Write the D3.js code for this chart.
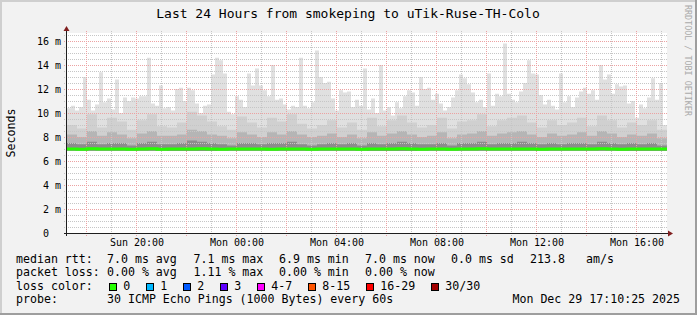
<!DOCTYPE html>
<html>
<head>
<meta charset="utf-8">
<style>
  body { margin: 0; background: #f2f2f2; }
  svg { display: block; }
  text { font-family: "DejaVu Sans Mono", monospace; fill: #000; }
</style>
</head>
<body>
<script src="https://cdn.jsdelivr.net/npm/d3@7"></script>
<script>
"use strict";

const title = "Last 24 Hours from smokeping to uTik-Ruse-TH-Colo";
const yLabel = "Seconds";
const watermark = "RRDTOOL / TOBI OETIKER";

// time window of the graph
const startTime = new Date(2025, 11, 28, 17, 13, 12);
const endTime = new Date(2025, 11, 29, 17, 13, 12);

// y ticks in ms
const yTickValues = [0, 2, 4, 6, 8, 10, 12, 14, 16];

// smoke: highest ping of each slot (ms)
const smokeMax = [
  10.4, 10.6, 10.2, 10.5, 13.0, 11.1, 10.2, 10.7, 13.4, 10.9,
  11.2, 10.3, 12.8, 10.0, 11.3, 11.0, 11.3, 11.2, 11.4, 11.4,
  14.6, 10.8, 10.6, 12.3, 10.4, 10.5, 10.2, 12.0, 12.1, 11.0,
  12.1, 11.9, 10.8, 10.0, 10.6, 10.7, 13.2, 14.6, 14.4, 13.3,
  10.1, 9.9, 11.4, 11.1, 10.5, 13.3, 12.3, 13.7, 12.3, 11.9,
  11.4, 14.0, 11.1, 11.2, 10.7, 10.3, 10.6, 10.5, 14.6, 10.6,
  10.4, 10.9, 15.2, 13.0, 12.5, 12.6, 11.2, 10.2, 11.9, 11.7,
  11.8, 10.5, 11.1, 10.6, 13.7, 10.3, 11.2, 10.0, 14.0, 10.2,
  10.5, 9.8, 10.9, 10.4, 11.4, 11.9, 11.7, 10.6, 13.0, 12.0,
  12.1, 11.1, 11.6, 10.8, 10.2, 10.5, 11.3, 11.9, 13.2, 12.9,
  12.4, 11.7, 10.9, 11.1, 10.5, 13.3, 10.6, 11.6, 11.4, 15.8,
  11.6, 11.1, 10.9, 11.8, 12.5, 14.4, 13.3, 13.2, 11.5, 10.7,
  11.1, 10.6, 10.3, 13.3, 10.9, 11.4, 10.5, 11.3, 11.8, 12.1,
  11.6, 11.9, 11.1, 14.0, 12.8, 13.2, 11.6, 12.4, 12.2, 12.3,
  10.8, 11.0, 9.6, 10.7, 10.4, 11.3, 12.9, 11.1, 12.5, 9.0
];

// smoke: upper body of the pings (ms)
const smokeUpper = [
  9.0, 8.7, 9.9, 8.8, 9.6, 9.3, 8.6, 9.4, 9.9, 8.9,
  8.8, 9.2, 10.1, 9.8, 9.3, 8.9, 8.6, 9.7, 9.2, 8.8,
  9.6, 9.3, 9.9, 9.1, 8.7, 9.0, 9.4, 8.8, 9.2, 8.6,
  9.6, 8.9, 9.4, 9.8, 9.2, 8.8, 9.0, 9.6, 8.7, 9.3,
  9.4, 9.9, 8.9, 9.4, 9.6, 9.8, 9.2, 8.8, 9.4, 9.0,
  9.2, 9.6, 8.9, 9.8, 9.4, 8.8, 9.2, 9.0, 9.4, 8.6
];

// smoke: middle band (ms)
const smokeMid = [
  8.2, 8.0, 8.5, 8.1, 8.4, 8.2, 7.9, 8.3, 8.5, 8.1,
  8.1, 8.2, 8.6, 8.5, 8.2, 8.1, 7.9, 8.4, 8.2, 8.0,
  8.4, 8.2, 8.5, 8.2, 8.0, 8.1, 8.3, 8.0, 8.2, 7.9,
  8.4, 8.1, 8.3, 8.5, 8.2, 8.0, 8.1, 8.4, 7.9, 8.2,
  8.3, 8.5, 8.1, 8.3, 8.4, 8.5, 8.2, 8.0, 8.3, 8.1,
  8.2, 8.4, 8.1, 8.5, 8.3, 8.0, 8.2, 8.1, 8.3, 7.9
];

// smoke: dense band just above the median (ms)
const smokeDark = [
  7.5, 7.4, 7.6, 7.4, 7.5, 7.5, 7.3, 7.5, 7.6, 7.4,
  7.4, 7.5, 7.7, 7.6, 7.5, 7.4, 7.3, 7.5, 7.5, 7.4,
  7.5, 7.5, 7.6, 7.4, 7.3, 7.4, 7.5, 7.4, 7.5, 7.3,
  7.5, 7.4, 7.5, 7.6, 7.5, 7.4, 7.4, 7.5, 7.3, 7.5,
  7.5, 7.6, 7.4, 7.5, 7.5, 7.6, 7.5, 7.4, 7.5, 7.4,
  7.5, 7.5, 7.4, 7.6, 7.5, 7.4, 7.5, 7.4, 7.5, 7.3
];

// smoke: lowest ping (ms)
const smokeLow = [6.85, 6.86, 6.84, 6.85, 6.86, 6.85, 6.84, 6.85, 6.86, 6.85, 6.85, 6.84];

// median rtt (ms)
const median = [
  7.00, 6.98, 7.02, 6.99, 7.00, 7.01, 6.97, 7.00, 7.02, 6.98,
  6.99, 7.00, 7.01, 7.02, 6.99, 6.98, 7.00, 6.99, 7.01, 7.00,
  6.98, 7.00, 7.01, 6.99, 6.97, 7.00, 7.01, 6.99, 7.00, 6.98,
  7.00, 6.99, 7.01, 7.02, 7.00, 6.98, 6.99, 7.00, 6.98, 7.00,
  7.01, 7.02, 6.99, 7.00, 7.01, 7.00, 6.99, 6.98, 7.00, 6.99,
  7.00, 7.01, 6.99, 7.02, 7.00, 6.98, 7.00, 6.99, 7.01, 7.00
];

// legend
const rttLabel = "median rtt:";
const rttStats = ["7.0 ms avg", "7.1 ms max", "6.9 ms min", "7.0 ms now", "0.0 ms sd", "213.8", "am/s"];
const lossLabel = "packet loss:";
const lossStats = ["0.00 % avg", "1.11 % max", "0.00 % min", "0.00 % now"];
const colorLabel = "loss color:";
const lossNames = ["0", "1", "2", "3", "4-7", "8-15", "16-29", "30/30"];
const lossColors = ["#26ff00", "#00b8ff", "#0059ff", "#5e00ff", "#ff00ff", "#ff5500", "#ff0000", "#a10000"];
const probeLabel = "probe:";
const probeText = "30 ICMP Echo Pings (1000 Bytes) every 60s";
const stamp = "Mon Dec 29 17:10:25 2025";

//SVG dimensions
const w = 697;
const h = 315;
const plotLeft = 67;
const plotRight = 667;
const plotTop = 33;
const plotBottom = 233;

const svg = d3.select("body").append("svg").attr("width", w).attr("height", h);

//Background with rrdtool shading
svg.append("rect").attr("width", w).attr("height", h).attr("fill", "#f2f2f2");
svg.append("path").attr("d", `M0,0H${w}V2H2V${h}H0Z`).attr("fill", "#cfcfcf");
svg.append("path").attr("d", `M${w},${h}H0V${h - 2}H${w - 2}V0H${w}Z`).attr("fill", "#9e9e9e");

//Canvas
svg.append("rect")
  .attr("x", plotLeft)
  .attr("y", plotTop)
  .attr("width", plotRight - plotLeft)
  .attr("height", plotBottom - plotTop)
  .attr("fill", "#ffffff");

const xScale = d3.scaleTime().domain([startTime, endTime]).range([plotLeft, plotRight]);
const yScale = d3.scaleLinear().domain([0, 200 / 12]).range([plotBottom, plotTop]);

//Turns an array of slot values into step points over the time window
const stepPoints = (values) => {
  const span = (endTime - startTime) / values.length;
  const pts = values.map((v, i) => ({ t: new Date(+startTime + i * span), v: v }));
  pts.push({ t: endTime, v: values[values.length - 1] });
  return pts;
};

const valueAt = (values, t) => {
  const span = (endTime - startTime) / values.length;
  const i = Math.min(values.length - 1, Math.floor((t - startTime) / span));
  return values[i];
};

const smokeArea = d3
  .area()
  .curve(d3.curveStepAfter)
  .x((d) => xScale(d.t))
  .y0((d) => yScale(valueAt(smokeLow, d.t)))
  .y1((d) => yScale(d.v));

//Smoke bands, light to dark
const bands = [
  { values: smokeMax, color: "#e0e0e0" },
  { values: smokeUpper, color: "#d0d0d0" },
  { values: smokeMid, color: "#b5b5b5" },
  { values: smokeDark, color: "#8c8c8c" }
];
bands.forEach((band) => {
  svg.append("path").attr("d", smokeArea(stepPoints(band.values))).attr("fill", band.color);
});

//Grid
const grid = svg.append("g").attr("shape-rendering", "crispEdges").attr("stroke-dasharray", "1,1");

yScale.ticks(40).forEach((v) => {
  if (v === 0) return;
  const major = yTickValues.includes(v);
  const y = Math.round(yScale(v)) + 0.5;
  grid.append("line")
    .attr("x1", plotLeft - 3)
    .attr("x2", plotRight)
    .attr("y1", y)
    .attr("y2", y)
    .attr("stroke", major ? "#eca2a2" : "#c6c6c6");
});

d3.timeHour.every(1).range(startTime, endTime).forEach((t) => {
  const major = t.getHours() % 2 === 0;
  const x = Math.floor(xScale(t)) + 0.5;
  grid.append("line")
    .attr("x1", x)
    .attr("x2", x)
    .attr("y1", plotTop - 2)
    .attr("y2", plotBottom + 3)
    .attr("stroke", major ? "#eca2a2" : "#c6c6c6");
});

//Median line
const medianLine = d3
  .line()
  .curve(d3.curveStepAfter)
  .x((d) => xScale(d.t))
  .y((d) => yScale(d.v));

svg.append("path")
  .attr("d", medianLine(stepPoints(median)))
  .attr("fill", "none")
  .attr("stroke", lossColors[0])
  .attr("stroke-width", 3);

//Axes lines and arrows
svg.append("line")
  .attr("x1", plotLeft - 3).attr("x2", plotRight + 2)
  .attr("y1", plotBottom + 0.5).attr("y2", plotBottom + 0.5)
  .attr("stroke", "#1f1f1f");
svg.append("line")
  .attr("x1", plotLeft - 0.5).attr("x2", plotLeft - 0.5)
  .attr("y1", plotBottom + 3).attr("y2", plotTop - 3)
  .attr("stroke", "#1f1f1f");
svg.append("path")
  .attr("d", `M${plotRight + 1},${plotBottom - 2.5}L${plotRight + 6},${plotBottom + 0.5}L${plotRight + 1},${plotBottom + 3.5}Z`)
  .attr("fill", "#801f1f");
svg.append("path")
  .attr("d", `M${plotLeft - 3.5},${plotTop - 2}L${plotLeft - 0.5},${plotTop - 7}L${plotLeft + 2.5},${plotTop - 2}Z`)
  .attr("fill", "#801f1f");

//Tick labels
const xAxis = d3
  .axisBottom(xScale)
  .ticks(d3.timeHour.every(4))
  .tickFormat(d3.timeFormat("%a %H:%M"))
  .tickSize(0)
  .tickPadding(6);

svg.append("g")
  .attr("transform", `translate(0, ${plotBottom})`)
  .call(xAxis)
  .call((g) => g.select(".domain").remove())
  .call((g) => g.selectAll(".tick text").attr("font-family", null).attr("fill", "#000").attr("font-size", 10));

const yAxis = d3
  .axisLeft(yScale)
  .tickValues(yTickValues)
  .tickFormat((d) => (d === 0 ? "0\u00a0\u00a0" : `${d}\u00a0m`))
  .tickSize(0)
  .tickPadding(6);

svg.append("g")
  .attr("transform", `translate(${plotLeft}, 0)`)
  .call(yAxis)
  .call((g) => g.select(".domain").remove())
  .call((g) => g.selectAll(".tick text").attr("font-family", null).attr("fill", "#000").attr("font-size", 10));

//Title
svg.append("text")
  .attr("x", 348)
  .attr("y", 18)
  .attr("text-anchor", "middle")
  .attr("font-size", 13)
  .text(title);

//Y label
svg.append("text")
  .attr("transform", `translate(15, ${(plotTop + plotBottom) / 2}) rotate(-90)`)
  .attr("text-anchor", "middle")
  .attr("font-size", 11.6)
  .text(yLabel);

//Watermark
svg.append("text")
  .attr("transform", "translate(685, 5) rotate(90)")
  .attr("font-size", 8.4)
  .style("fill", "#aaaaaa")
  .text(watermark);

//Legend
const legendSize = 11.6;
const lineY = [262.5, 276, 289.5, 303];
const statX = [107, 193.5, 279, 365, 451, 530, 586];

const addText = (x, y, str, anchor) => {
  svg.append("text")
    .attr("x", x)
    .attr("y", y)
    .attr("font-size", legendSize)
    .attr("text-anchor", anchor || "start")
    .text(str);
};

addText(16, lineY[0], rttLabel);
rttStats.forEach((s, i) => addText(statX[i], lineY[0], s));

addText(16, lineY[1], lossLabel);
lossStats.forEach((s, i) => addText(statX[i], lineY[1], s));

addText(16, lineY[2], colorLabel);
let boxX = 108.7;
lossNames.forEach((name, i) => {
  svg.append("rect")
    .attr("x", boxX + 0.5)
    .attr("y", 283.5)
    .attr("width", 7)
    .attr("height", 7)
    .attr("fill", lossColors[i])
    .attr("stroke", "#000")
    .attr("shape-rendering", "crispEdges");
  addText(boxX + 14.6, lineY[2], name);
  boxX += 37 + (name.length - 1) * 7;
});

addText(16, lineY[3], probeLabel);
addText(107, lineY[3], probeText);
addText(680, lineY[3], stamp, "end");
</script>
</body>
</html>
